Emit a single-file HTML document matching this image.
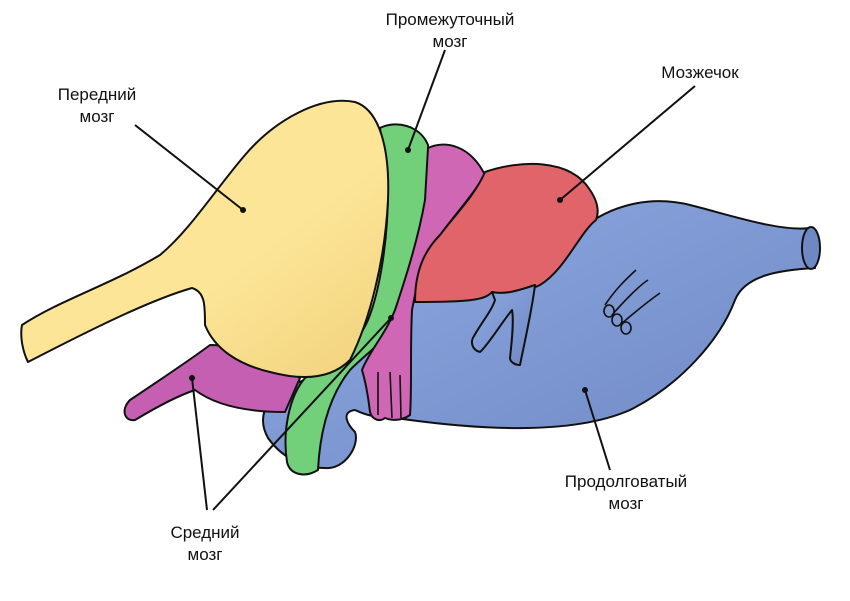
<!DOCTYPE html>
<html><head><meta charset="utf-8"><style>
html,body{margin:0;padding:0;background:#fff;}
svg{display:block;}
text{font-family:"Liberation Sans",sans-serif;font-size:17px;fill:#111;}
</style></head><body>
<svg width="850" height="601" viewBox="0 0 850 601" xmlns="http://www.w3.org/2000/svg">
<defs>
<linearGradient id="bl" x1="0" y1="0" x2="1" y2="1"><stop offset="0" stop-color="#8ea9e2"/><stop offset="1" stop-color="#6f88c4"/></linearGradient>
<linearGradient id="ye" x1="0" y1="0" x2="1" y2="1"><stop offset="0.6" stop-color="#fce597"/><stop offset="1" stop-color="#f1d17c"/></linearGradient>
</defs>
<g stroke="#111" stroke-width="2" stroke-linejoin="round">
<!-- blue medulla -->
<path fill="url(#bl)" d="M410,300 C470,290 540,280 580,230 C610,205 650,195 690,205 C730,215 780,232 810,228 L815,268 C780,270 745,275 735,300 C720,340 680,385 630,410 C580,432 500,432 410,420 L395,418 C370,418 360,412 355,410 C340,412 348,425 355,432 C360,445 345,470 325,468 C300,468 280,455 268,438 C258,420 262,400 290,385 L350,365 Z"/>
<ellipse cx="811" cy="248" rx="9" ry="21" fill="#6f88c4"/>
<!-- magenta lower left -->
<path fill="#c55fb1" d="M300,378 C270,360 240,345 210,345 C190,360 160,380 130,400 C120,410 125,422 135,420 C160,405 180,395 195,390 C215,405 245,412 285,412 Z"/>
<!-- green -->
<path fill="#72d07a" d="M380,128 C395,120 420,125 428,145 C430,200 420,260 410,300 C400,330 370,350 350,370 C330,395 320,430 318,470 C305,478 290,475 287,462 C282,430 290,395 305,378 C330,365 355,350 368,320 C380,290 388,240 388,190 Z"/>
<!-- magenta -->
<path fill="#cf67b4" d="M428,148 C445,140 470,145 485,175 C470,200 445,225 430,250 C418,275 415,295 412,310 C410,350 412,390 410,415 C400,422 390,420 385,418 C380,422 372,420 370,412 C368,395 365,380 362,370 C370,350 385,335 395,310 C405,280 418,240 425,200 Z"/>
<!-- red -->
<path fill="#e2646b" d="M485,172 C520,160 570,158 590,190 C600,205 598,215 596,220 C580,232 565,270 540,285 C520,295 500,298 492,292 C485,300 470,302 415,302 C415,270 425,250 440,235 C455,215 475,195 485,172 Z"/>
<!-- blue inner forks -->
<path fill="url(#bl)" d="M492,292 C505,295 520,290 535,285 C532,310 525,340 520,365 C515,365 510,362 510,358 C512,340 514,320 512,310 C500,325 488,345 480,352 C472,350 470,342 474,336 C482,322 492,310 495,300 Z"/>
<!-- yellow forebrain -->
<path fill="url(#ye)" d="M22,325 C60,300 110,285 160,255 C190,230 215,190 245,155 C275,120 320,95 355,102 C380,110 390,150 388,200 C385,260 370,320 350,360 C330,380 300,380 270,372 C240,365 215,350 205,325 C205,305 205,292 192,288 C150,300 90,330 28,362 C22,350 20,335 22,325 Z"/>
<!-- lines on blue -->
<g fill="none" stroke-width="1.6">
<path d="M605,305 C615,290 625,280 636,270"/>
<path d="M612,315 C625,300 640,285 648,280"/>
<path d="M620,325 C635,312 650,300 660,293"/>
<ellipse cx="609" cy="311" rx="5" ry="6"/>
<ellipse cx="617" cy="320" rx="5" ry="6"/>
<ellipse cx="626" cy="328" rx="5" ry="6"/>
<path d="M378,372 L378,415 M390,372 L392,418 M400,375 L401,418"/>
</g>
</g>
<!-- leader lines -->
<g stroke="#111" stroke-width="2" fill="none">
<line x1="135" y1="125" x2="243" y2="210"/>
<line x1="445" y1="50" x2="408" y2="150"/>
<line x1="695" y1="86" x2="560" y2="200"/>
<line x1="585" y1="390" x2="610" y2="470"/>
<line x1="207" y1="510" x2="192" y2="378"/>
<line x1="213" y1="510" x2="391" y2="318"/>
</g>
<g fill="#111">
<circle cx="243" cy="210" r="3"/><circle cx="408" cy="150" r="3"/><circle cx="560" cy="200" r="3"/>
<circle cx="585" cy="390" r="3"/><circle cx="192" cy="378" r="3"/><circle cx="391" cy="318" r="3"/>
</g>
<text x="97" y="100" text-anchor="middle">Передний</text>
<text x="97" y="122" text-anchor="middle">мозг</text>
<text x="450" y="25" text-anchor="middle">Промежуточный</text>
<text x="450" y="47" text-anchor="middle">мозг</text>
<text x="700" y="78" text-anchor="middle">Мозжечок</text>
<text x="626" y="487" text-anchor="middle">Продолговатый</text>
<text x="626" y="509" text-anchor="middle">мозг</text>
<text x="205" y="538" text-anchor="middle">Средний</text>
<text x="205" y="560" text-anchor="middle">мозг</text>
</svg>
</body></html>
